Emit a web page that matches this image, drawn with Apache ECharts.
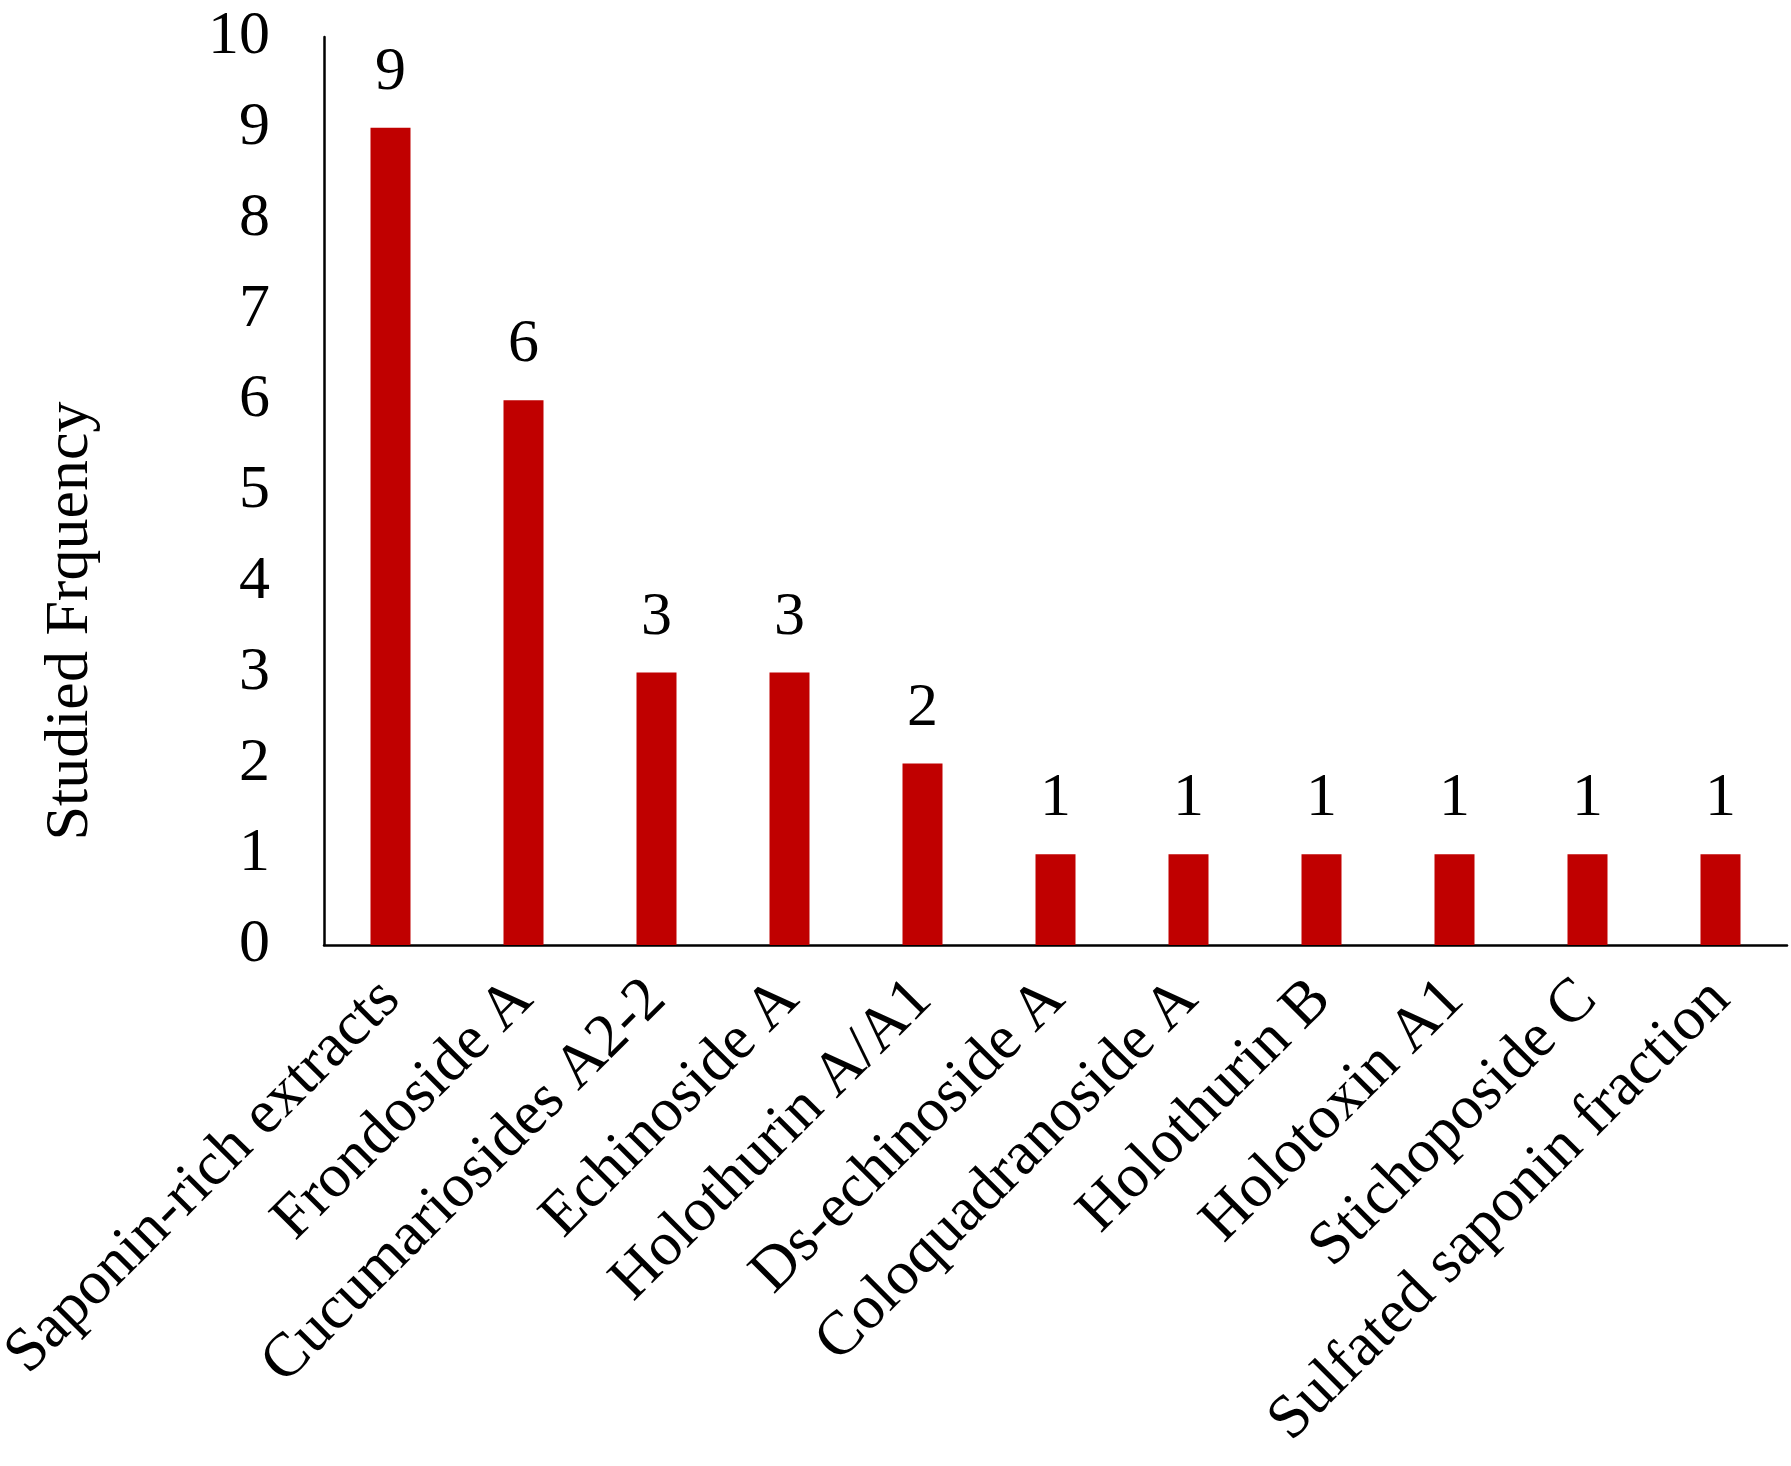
<!DOCTYPE html>
<html>
<head>
<meta charset="utf-8">
<script src="https://cdn.jsdelivr.net/npm/echarts@6/dist/echarts.min.js"></script>
<style>
  html, body { margin: 0; padding: 0; background: #fff; }
  #chart { width: 1791px; height: 1466px; }
</style>
</head>
<body>
<div id="chart"></div>
<script>
const categories = [
  "Saponin-rich extracts",
  "Frondoside A",
  "Cucumariosides A2-2",
  "Echinoside A",
  "Holothurin A/A1",
  "Ds-echinoside A",
  "Coloquadranoside A",
  "Holothurin B",
  "Holotoxin A1",
  "Stichoposide C",
  "Sulfated saponin fraction"
];
const frequency = [9, 6, 3, 3, 2, 1, 1, 1, 1, 1, 1];
const yAxisTitle = "Studied Frquency";

const FONT = '"Liberation Serif", "Times New Roman", serif';
const chart = echarts.init(document.getElementById('chart'), null, { renderer: 'canvas' });
chart.setOption({
  animation: false,
  backgroundColor: '#ffffff',
  grid: { left: 324, right: 4, top: 37, bottom: 521, containLabel: false, outerBoundsMode: 'none' },
  xAxis: {
    type: 'category',
    data: categories,
    boundaryGap: true,
    axisLine: { show: true, lineStyle: { color: '#000', width: 2.5 } },
    axisTick: { show: false },
    axisLabel: {
      interval: 0,
      rotate: 45,
      margin: 45,
      padding: [60, 0, 0, 0],
      fontFamily: FONT,
      fontSize: 62,
      color: '#000'
    }
  },
  yAxis: {
    type: 'value',
    min: 0,
    max: 10,
    interval: 1,
    name: yAxisTitle,
    nameLocation: 'middle',
    nameRotate: 90,
    nameGap: 222,
    nameTextStyle: {
      fontFamily: FONT,
      fontSize: 62,
      color: '#000',
      padding: [0, 260, 0, 0]
    },
    axisLine: { show: true, lineStyle: { color: '#000', width: 2.5 } },
    axisTick: { show: false },
    splitLine: { show: false },
    axisLabel: {
      margin: 54,
      fontFamily: FONT,
      fontSize: 62,
      color: '#000'
    }
  },
  series: [{
    type: 'bar',
    data: frequency,
    barWidth: 40,
    itemStyle: { color: '#C00000' },
    label: {
      show: true,
      position: 'top',
      distance: 24,
      fontFamily: FONT,
      fontSize: 62,
      color: '#000'
    }
  }]
});
</script>
</body>
</html>
